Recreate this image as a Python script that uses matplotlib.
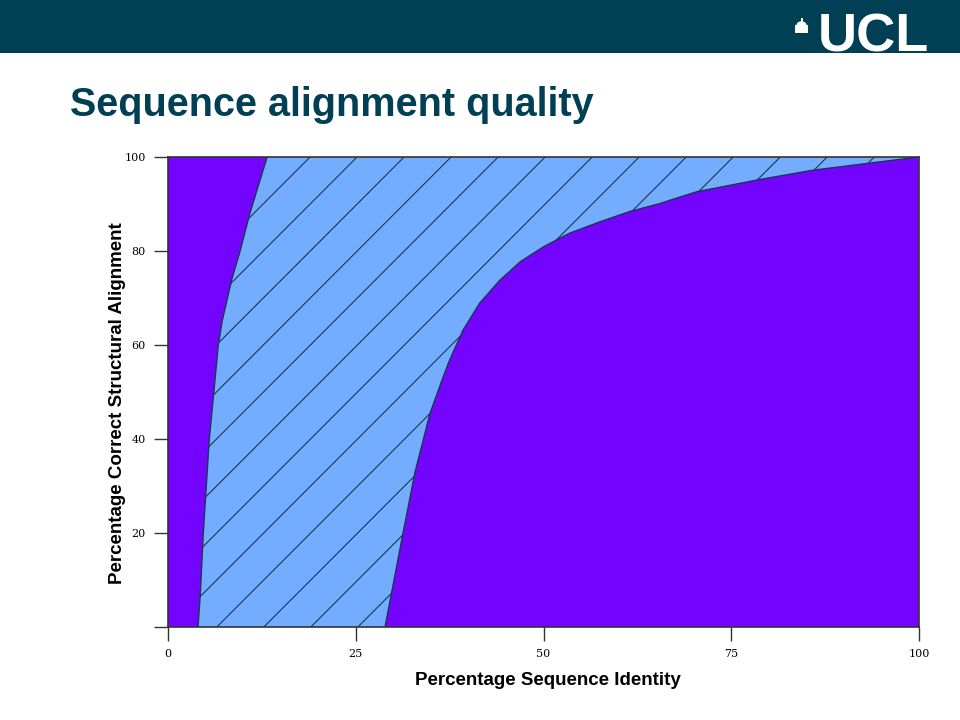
import numpy as np
import matplotlib
matplotlib.use("Agg")
import matplotlib.pyplot as plt
from matplotlib.patches import Polygon, Rectangle, Wedge

# boundary of the shaded band
left_x = [4.0, 4.3, 4.7, 5.5, 6.7, 7.2, 8.5, 9.6, 10.9, 13.2]
left_y = [0, 7, 20, 40, 60, 65, 74, 80, 88, 100]
right_x = [28.9, 31.3, 32.9, 34.9, 36.5, 37.5, 39.3, 41.5, 44.2, 46.9,
           50.0, 53.5, 57.5, 61.5, 65.5, 68.2, 70.4, 78.4, 85.9, 100.0]
right_y = [0, 20, 33, 45.5, 52.6, 56.8, 63.2, 68.9, 73.8, 77.7,
           80.9, 83.8, 86.2, 88.4, 90.1, 91.5, 92.6, 95.1, 97.2, 100]

x_ticks = [0, 25, 50, 75, 100]
y_ticks = [0, 20, 40, 60, 80, 100]
y_tick_labels = ["", "20", "40", "60", "80", "100"]

PURPLE = "#7204ff"
LIGHT = "#74adff"
DARK = "#1c3550"
TEAL = "#003f54"

fig = plt.figure(figsize=(9.6, 7.2), dpi=100)

# header banner
fig.patches.append(Rectangle((0, 1 - 53 / 720), 1, 53 / 720, transform=fig.transFigure,
                             facecolor=TEAL, edgecolor="none", zorder=0))
fig.text(0.968, 1 - 52 / 720, "UCL", color="white", fontsize=39, fontweight="heavy",
         family="Liberation Sans", ha="right", va="baseline")
# little dome icon
fig.patches.append(Rectangle((795 / 960, 1 - 33 / 720), 13 / 960, 8 / 720,
                             transform=fig.transFigure, facecolor="white", edgecolor="none"))
fig.patches.append(Wedge((801.5 / 960, 1 - 25 / 720), 5 / 960, 0, 180,
                         transform=fig.transFigure, facecolor="white", edgecolor="none"))
fig.patches.append(Rectangle((800.5 / 960, 1 - 22 / 720), 2 / 960, 4 / 720,
                             transform=fig.transFigure, facecolor="white", edgecolor="none"))

fig.text(70 / 960, 1 - 105 / 720, "Sequence alignment quality", color=TEAL, fontsize=28.5,
         fontweight="bold", family="Liberation Sans", ha="left", va="center")

ax = fig.add_axes([168 / 960, 1 - 627 / 720, 751 / 960, 470 / 720])
ax.set_facecolor(PURPLE)
ax.set_xlim(0, 100)
ax.set_ylim(0, 100)

band_x = list(left_x) + list(right_x[::-1])
band_y = list(left_y) + list(right_y[::-1])
band = Polygon(np.column_stack([band_x, band_y]), closed=True, facecolor=LIGHT,
               edgecolor="none", zorder=1)
ax.add_patch(band)
ax.plot(left_x, left_y, color=DARK, lw=1, zorder=3)
ax.plot(right_x, right_y, color=DARK, lw=1, zorder=3)

# sparse diagonal hatch, clipped to the band
for x0 in np.arange(6.5 - 6.26 * 12, 100, 6.26):
    ln, = ax.plot([x0, x0 + 62.5], [0, 100], color=DARK, lw=0.8, zorder=2)
    ln.set_clip_path(band)

for s in ax.spines.values():
    s.set_color("#333333")
    s.set_linewidth(1.2)

ax.set_xticks(x_ticks)
ax.set_yticks(y_ticks)
ax.set_yticklabels(y_tick_labels)
ax.tick_params(direction="out", length=10, width=1, color="#333333", labelsize=8,
               pad=6)
for lbl in ax.get_xticklabels() + ax.get_yticklabels():
    lbl.set_family("DejaVu Serif")

ax.set_xlabel("Percentage Sequence Identity", fontsize=13.5, fontweight="bold",
              family="Liberation Sans")
ax.set_ylabel("Percentage Correct Structural Alignment", fontsize=13.5, fontweight="bold",
              family="Liberation Sans")
ax.xaxis.set_label_coords(0.506, -0.096)
ax.yaxis.set_label_coords(-0.056, 0.477)

fig.savefig("out.png", dpi=100)
